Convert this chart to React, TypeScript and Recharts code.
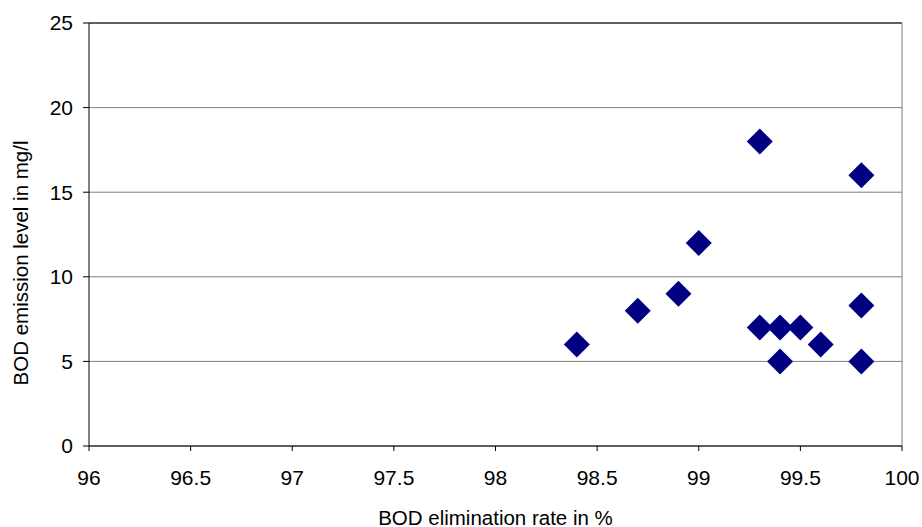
import React from 'react';
import { ScatterChart, Scatter, XAxis, YAxis, CartesianGrid, ReferenceLine } from 'recharts';

const eliminationRate = [98.4, 98.7, 98.9, 99.0, 99.3, 99.3, 99.4, 99.4, 99.5, 99.6, 99.8, 99.8, 99.8];
const emissionLevel = [6, 8, 9, 12, 18, 7, 7, 5, 7, 6, 16, 8.3, 5];
const xTicks = [96, 96.5, 97, 97.5, 98, 98.5, 99, 99.5, 100];
const yTicks = [0, 5, 10, 15, 20, 25];

const data = eliminationRate.map((x, i) => ({ x, y: emissionLevel[i] }));

const FONT = '"Liberation Sans", Arial, sans-serif';

const Diamond = (props: any) => {
  const { cx, cy } = props;
  const r = 13;
  return (
    <polygon
      points={`${cx},${cy - r} ${cx + r},${cy} ${cx},${cy + r} ${cx - r},${cy}`}
      fill="#000080"
    />
  );
};

const App: React.FC = () => {
  return (
    <div style={{ position: 'absolute', left: 0, top: 0, background: '#fff' }}>
      <ScatterChart width={922} height={527} margin={{ top: 23, right: 20, left: 0, bottom: 0 }}>
        <CartesianGrid vertical={false} stroke="#7f7f7f" />
        <XAxis
          type="number"
          dataKey="x"
          domain={[96, 100]}
          ticks={xTicks}
          height={81}
          tickSize={5}
          tickMargin={19}
          stroke="#000"
          tick={{ fill: '#000', fontSize: 21, fontFamily: FONT }}
          label={({ viewBox }: any) => (
            <text
              x={viewBox.x + viewBox.width / 2}
              y={517}
              textAnchor="middle"
              dominantBaseline="central"
              fontSize={20.5}
              fontFamily={FONT}
              fill="#000"
            >
              BOD elimination rate in %
            </text>
          )}
        />
        <YAxis
          type="number"
          dataKey="y"
          domain={[0, 25]}
          ticks={yTicks}
          width={89}
          tickSize={6}
          tickMargin={10}
          stroke="#000"
          tick={{ fill: '#000', fontSize: 21, fontFamily: FONT }}
          label={() => (
            <text
              x={20}
              y={263}
              transform="rotate(-90 20 263)"
              textAnchor="middle"
              dominantBaseline="central"
              fontSize={20.5}
              fontFamily={FONT}
              fill="#000"
            >
              BOD emission level in mg/l
            </text>
          )}
        />
        <ReferenceLine y={25} stroke="#000" />
        <ReferenceLine x={100} stroke="#7f7f7f" />
        <Scatter data={data} shape={<Diamond />} isAnimationActive={false} />
      </ScatterChart>
    </div>
  );
};

export default App;
